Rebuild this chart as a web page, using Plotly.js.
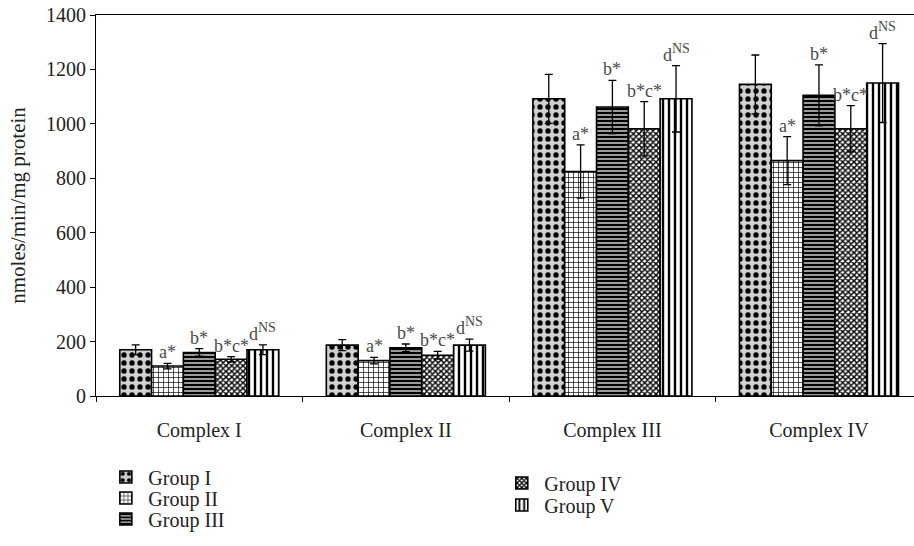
<!DOCTYPE html>
<html>
<head>
<meta charset="utf-8">
<script src="https://cdn.plot.ly/plotly-3.0.1.min.js"></script>
<style>html,body{margin:0;padding:0;background:#fff}#chart{width:914px;height:546px}</style>
</head>
<body>
<div id="chart"></div>
<script>
const categories = ["Complex I", "Complex II", "Complex III", "Complex IV"];
const groupNames = ["Group I", "Group II", "Group III", "Group IV", "Group V"];
const group1 = [170, 187, 1092, 1145];
const group2 = [110, 130, 825, 865];
const group3 = [160, 177, 1062, 1105];
const group4 = [135, 150, 982, 982];
const group5 = [170, 187, 1092, 1150];
const err1 = [18, 20, 90, 108];
const err2 = [10, 12, 98, 88];
const err3 = [14, 14, 98, 112];
const err4 = [10, 14, 100, 85];
const err5 = [18, 22, 122, 145];
const labels1 = ["", "", "", ""];
const labels2 = ["a*", "a*", "a*", "a*"];
const labels3 = ["b*", "b*", "b*", "b*"];
const labels4 = ["b*c*", "b*c*", "b*c*", "b*c*"];
const labels5 = ["d<sup>NS</sup>", "d<sup>NS</sup>", "d<sup>NS</sup>", "d<sup>NS</sup>"];
const yTicks = [0, 200, 400, 600, 800, 1000, 1200, 1400];

const values = [group1, group2, group3, group4, group5];
const errs = [err1, err2, err3, err4, err5];
const labels = [labels1, labels2, labels3, labels4, labels5];

const patterns = [
  {shape: ".", fgcolor: "#000", bgcolor: "#cfcfcf", size: 8, solidity: 0.35},
  {shape: "+", fgcolor: "#000", bgcolor: "#fff", size: 5, solidity: 0.25},
  {shape: "-", fgcolor: "#000", bgcolor: "#fff", size: 4, solidity: 0.7},
  {shape: "x", fgcolor: "#000", bgcolor: "#fff", size: 4, solidity: 0.6},
  {shape: "|", fgcolor: "#000", bgcolor: "#fff", size: 6, solidity: 0.4}
];

const font = "Liberation Serif, DejaVu Serif, serif";
const legendIds = ["legend", "legend2", "legend3", "legend4", "legend5"];
const traces = values.map((v, i) => ({
  type: "bar",
  name: groupNames[i],
  x: categories,
  y: v,
  legend: legendIds[i],
  marker: {color: "#fff", pattern: patterns[i], line: {color: "#000", width: 1.6}},
  error_y: {type: "data", array: errs[i], visible: true, color: "#000", thickness: 1.3, width: 4}
}));

const groupW = 0.77, n = 5, bw = groupW / n;
const annotations = [];
labels.forEach((arr, i) => {
  arr.forEach((t, j) => {
    if (!t) return;
    const txt = t.replace("<sup>NS</sup>", "<sup><span style='font-size:14px'>NS</span></sup>");
    annotations.push({
      x: j + (i - 2) * bw, xref: "x",
      y: values[i][j] + errs[i][j], yref: "y",
      text: txt, showarrow: false, yanchor: "bottom", yshift: -1,
      font: {family: font, size: 18, color: "#4a4a4a"}
    });
  });
});

const legendPos = [
  {x: 0.009, y: -0.2126},
  {x: 0.009, y: -0.2677},
  {x: 0.009, y: -0.3228},
  {x: 0.493, y: -0.2283},
  {x: 0.493, y: -0.2861}
];

const layout = {
  width: 914, height: 546,
  margin: {l: 96, r: 0, t: 15, b: 150},
  paper_bgcolor: "#fff", plot_bgcolor: "#fff",
  barmode: "group", bargap: 0.23, bargroupgap: 0,
  font: {family: font, size: 20, color: "#222"},
  xaxis: {
    type: "category", range: [-0.5, 3.46],
    showline: true, linecolor: "#000", linewidth: 1, mirror: true,
    ticks: "outside", tickson: "boundaries", ticklen: 5, tickcolor: "#000",
    ticklabelstandoff: 16,
    showgrid: false, zeroline: false,
    tickfont: {family: font, size: 20, color: "#222"}
  },
  yaxis: {
    range: [0, 1400], tickvals: yTicks,
    showline: true, linecolor: "#000", linewidth: 1,
    ticks: "outside", ticklen: 5, tickcolor: "#000",
    showgrid: false, zeroline: false,
    tickfont: {family: font, size: 20, color: "#222"},
    title: {text: "nmoles/min/mg protein", font: {family: font, size: 21, color: "#222"}, standoff: 14}
  },
  annotations: annotations,
  showlegend: true
};
legendIds.forEach((id, i) => {
  layout[id] = {
    x: legendPos[i].x, y: legendPos[i].y, xanchor: "left", yanchor: "middle",
    orientation: "v", itemwidth: 35, tracegroupgap: 0,
    font: {family: font, size: 20, color: "#222"}, bgcolor: "rgba(0,0,0,0)"
  };
});

Plotly.newPlot("chart", traces, layout, {staticPlot: true, displayModeBar: false});
</script>
</body>
</html>
